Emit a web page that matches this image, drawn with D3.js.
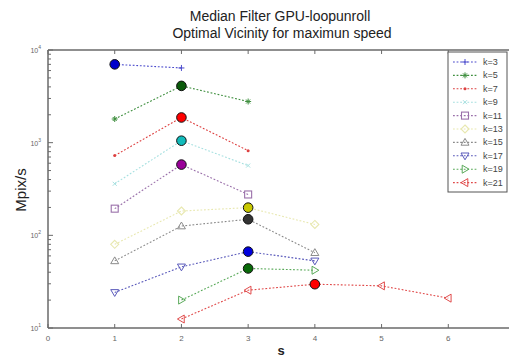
<!DOCTYPE html>
<html>
<head>
<meta charset="utf-8">
<script src="https://d3js.org/d3.v7.min.js"></script>
<style>
  body { margin: 0; background: #fff; }
  svg { font-family: "Liberation Sans", Arial, sans-serif; }
</style>
</head>
<body>
<svg id="chart" width="509" height="361"></svg>
<script>
// data
var kLabels = ["k=3", "k=5", "k=7", "k=9", "k=11", "k=13", "k=15", "k=17", "k=19", "k=21"];
var sValues = [
  [1, 2],
  [1, 2, 3],
  [1, 2, 3],
  [1, 2, 3],
  [1, 2, 3],
  [1, 2, 3, 4],
  [1, 2, 3, 4],
  [1, 2, 3, 4],
  [2, 3, 4],
  [2, 3, 4, 5, 6]
];
var speeds = [
  [7000, 6400],
  [1800, 4100, 2780],
  [725, 1870, 820],
  [360, 1050, 566],
  [194, 580, 276],
  [80, 183, 199, 131],
  [53, 126, 149, 65],
  [24.2, 45.7, 66.7, 53],
  [20, 43.9, 42],
  [12.5, 25.6, 29.7, 28.5, 21]
];
// s with the maximum speed for each k
var bestS = [1, 2, 2, 2, 2, 3, 3, 3, 3, 4];
var xTicks = [0, 1, 2, 3, 4, 5, 6];
var yTicks = [10, 100, 1000, 10000];

var lineColors = ["#4a4acc", "#3f8f3f", "#dd4040", "#a6e0e0", "#9a70aa", "#e8e8b0", "#8a8a8a", "#5a5abb", "#5aaa5a", "#e04a4a"];
var dotColors = ["#0000cc", "#0a5a0a", "#ff0000", "#11bbbb", "#990099", "#c8c800", "#333333", "#0000dd", "#0a6a0a", "#ff0000"];
var symbols = ["plus", "star", "dot", "x", "square", "diamond", "tup", "tdown", "tright", "tleft"];

var svg = d3.select("#chart");
var x = d3.scaleLinear().domain([0, 7]).range([48, 515]);
var y = d3.scaleLog().domain([10, 10000]).range([328, 50]);

var axisCol = "#6a6a6a";

// title
svg.append("text").attr("x", 280).attr("y", 21).attr("text-anchor", "middle")
  .attr("font-size", 14).attr("fill", "#222").text("Median Filter GPU-loopunroll");
svg.append("text").attr("x", 282).attr("y", 38).attr("text-anchor", "middle")
  .attr("font-size", 14).attr("fill", "#222").text("Optimal Vicinity for maximun speed");

// box lines
svg.append("line").attr("x1", 48).attr("x2", 515).attr("y1", 50).attr("y2", 50)
  .attr("stroke", axisCol).attr("stroke-width", 1.5);
svg.append("line").attr("x1", 48).attr("x2", 515).attr("y1", 328).attr("y2", 328)
  .attr("stroke", axisCol).attr("stroke-width", 1.5);
svg.append("line").attr("x1", 48).attr("x2", 48).attr("y1", 50).attr("y2", 328)
  .attr("stroke", axisCol).attr("stroke-width", 1.5);

// x ticks, top and bottom
xTicks.forEach(function(t) {
  svg.append("line").attr("x1", x(t)).attr("x2", x(t)).attr("y1", 328).attr("y2", 324).attr("stroke", axisCol);
  svg.append("line").attr("x1", x(t)).attr("x2", x(t)).attr("y1", 50).attr("y2", 54).attr("stroke", axisCol);
  svg.append("text").attr("x", x(t)).attr("y", 341).attr("text-anchor", "middle")
    .attr("font-size", 8).attr("fill", "#666").text(t);
});

// y ticks (log), major + minor
yTicks.forEach(function(t, i) {
  svg.append("line").attr("x1", 48).attr("x2", 53).attr("y1", y(t)).attr("y2", y(t)).attr("stroke", axisCol);
  var lab = svg.append("text").attr("x", 41).attr("y", y(t) + 3).attr("text-anchor", "end")
    .attr("font-size", 7).attr("fill", "#666");
  lab.append("tspan").text("10");
  lab.append("tspan").attr("dy", -4).attr("font-size", 5).text(i + 1);
  if (i < yTicks.length - 1) {
    for (var m = 2; m <= 9; m++) {
      svg.append("line").attr("x1", 48).attr("x2", 51).attr("y1", y(t * m)).attr("y2", y(t * m)).attr("stroke", axisCol);
    }
  }
});

// axis labels
svg.append("text").attr("x", 281).attr("y", 355).attr("text-anchor", "middle")
  .attr("font-size", 13).attr("font-weight", "bold").attr("fill", "#222").text("s");
svg.append("text").attr("transform", "translate(26,190) rotate(-90)").attr("text-anchor", "middle")
  .attr("font-size", 15).attr("fill", "#222").text("Mpix/s");

function marker(g, type, cx, cy, col) {
  var s = 3;
  if (type == "plus") {
    g.append("path").attr("d", "M" + (cx - s) + "," + cy + "h" + 2 * s + "M" + cx + "," + (cy - s) + "v" + 2 * s)
      .attr("stroke", col).attr("stroke-width", 1);
  } else if (type == "star") {
    g.append("path").attr("d", "M" + (cx - s) + "," + cy + "h" + 2 * s + "M" + cx + "," + (cy - s) + "v" + 2 * s +
      "M" + (cx - 2) + "," + (cy - 2) + "l4,4M" + (cx - 2) + "," + (cy + 2) + "l4,-4")
      .attr("stroke", col).attr("stroke-width", 1);
  } else if (type == "dot") {
    g.append("circle").attr("cx", cx).attr("cy", cy).attr("r", 1.5).attr("fill", col);
  } else if (type == "x") {
    g.append("path").attr("d", "M" + (cx - 2) + "," + (cy - 2) + "l4,4M" + (cx - 2) + "," + (cy + 2) + "l4,-4")
      .attr("stroke", col).attr("stroke-width", 1);
  } else if (type == "square") {
    g.append("rect").attr("x", cx - 3.5).attr("y", cy - 3.5).attr("width", 7).attr("height", 7)
      .attr("fill", "none").attr("stroke", col).attr("stroke-width", 1.1);
  } else if (type == "diamond") {
    g.append("path").attr("d", "M" + cx + "," + (cy - 4) + "l4,4l-4,4l-4,-4z")
      .attr("fill", "none").attr("stroke", col).attr("stroke-width", 1.1);
  } else {
    var r = 4, pts;
    if (type == "tup") pts = [[0, -r], [r, r * 0.7], [-r, r * 0.7]];
    if (type == "tdown") pts = [[0, r], [r, -r * 0.7], [-r, -r * 0.7]];
    if (type == "tright") pts = [[r, 0], [-r * 0.7, -r], [-r * 0.7, r]];
    if (type == "tleft") pts = [[-r, 0], [r * 0.7, -r], [r * 0.7, r]];
    g.append("path").attr("d", "M" + pts.map(function(p) { return (cx + p[0]) + "," + (cy + p[1]); }).join("L") + "Z")
      .attr("fill", "none").attr("stroke", col).attr("stroke-width", 1);
  }
}

var line = d3.line().x(function(d) { return x(d[0]); }).y(function(d) { return y(d[1]); });

var plot = svg.append("g");
kLabels.forEach(function(k, i) {
  var pts = sValues[i].map(function(s, j) { return [s, speeds[i][j]]; });
  plot.append("path").datum(pts).attr("d", line).attr("fill", "none")
    .attr("stroke", lineColors[i]).attr("stroke-width", 1.1).attr("stroke-dasharray", "1.8,1.8");
  var g = plot.append("g");
  pts.forEach(function(p) {
    if (p[0] == bestS[i]) {
      g.append("circle").attr("cx", x(p[0])).attr("cy", y(p[1])).attr("r", 4.8)
        .attr("fill", dotColors[i]).attr("stroke", "#111").attr("stroke-width", 1);
    } else {
      marker(g, symbols[i], x(p[0]), y(p[1]), lineColors[i]);
    }
  });
});

// legend
var lg = svg.append("g");
lg.append("rect").attr("x", 448).attr("y", 52).attr("width", 59).attr("height", 140)
  .attr("fill", "#fff").attr("stroke", "#555").attr("stroke-width", 1);
kLabels.forEach(function(k, i) {
  var ly = 62 + i * 13.4;
  lg.append("line").attr("x1", 453).attr("x2", 477).attr("y1", ly).attr("y2", ly)
    .attr("stroke", lineColors[i]).attr("stroke-width", 1.1).attr("stroke-dasharray", "1.8,1.8");
  marker(lg, symbols[i], 465, ly, lineColors[i]);
  lg.append("text").attr("x", 483).attr("y", ly + 3).attr("font-size", 9).attr("fill", "#444").text(k);
});
</script>
</body>
</html>
